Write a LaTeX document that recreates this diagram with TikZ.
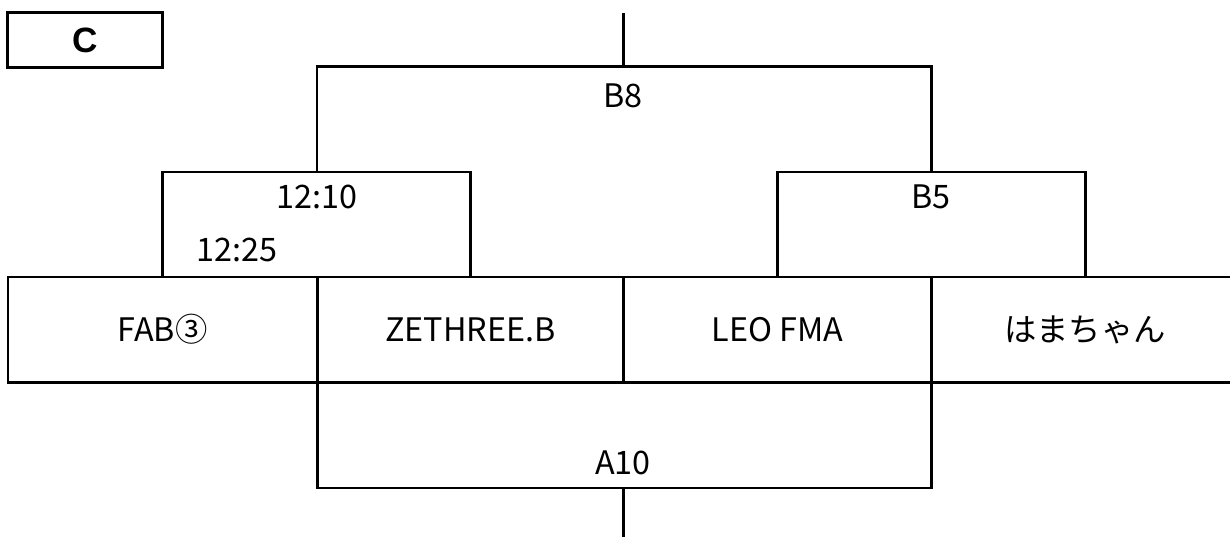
\documentclass[tikz,border=0pt]{standalone}
\usepackage{fontspec}
\setmainfont{Noto Sans CJK JP}
\newfontfamily\headfont{Liberation Sans}
\usetikzlibrary{positioning}

\begin{document}
\begin{tikzpicture}[
  x=0.01cm,y=-0.01cm,
  line/.style={line width=0.85pt,draw=black},
  team/.style={line,minimum height=1.05cm,inner sep=0pt,outer sep=0pt,font=\fontsize{9.2}{11}\selectfont},
  score/.style={inner sep=0pt,font=\fontsize{9.2}{11}\selectfont},
  pool/.style={line,minimum width=1.54cm,minimum height=0.54cm,inner sep=0pt,font=\headfont\bfseries\fontsize{10}{12}\selectfont}
]
\useasboundingbox (0,0) rectangle (1230,537);
\node[pool] (pool) at (85,40) {C};
% team row
\node[team,minimum width=3.09cm,anchor=north west] (fab) at (8,277) {FAB③};
\node[team,minimum width=3.06cm,right=0pt of fab] (zeth) {ZETHREE.B};
\node[team,minimum width=3.08cm,right=0pt of zeth] (leo) {LEO FMA};
\node[team,minimum width=3.07cm,right=0pt of leo] (hama) {はまちゃん};
% bracket points
\coordinate (semiL) at (317,172);
\coordinate (semiR) at (931,172);
\coordinate (final) at (623,67);
\coordinate (top) at (623,13);
\coordinate (third) at (623,488);
\coordinate (bottom) at (623,537);
\draw[line] (fab.north) |- (semiL) -| (zeth.north);
\draw[line] (leo.north) |- (semiR) -| (hama.north);
\draw[line] (semiL) |- (final) -| (semiR);
\draw[line] (final) -- (top);
\draw[line] (zeth.south west) |- (third) -| (leo.south east);
\draw[line] (third) -- (bottom);
% match labels
\node[score] (finalLbl) at (623,96) {B8};
\node[score] (semiLTime) at (317,197) {12:10};
\node[score] (semiLTime2) at (237,250) {12:25};
\node[score] (semiRLbl) at (931,197) {B5};
\node[score] (thirdLbl) at (623,463) {A10};
\end{tikzpicture}
\end{document}
